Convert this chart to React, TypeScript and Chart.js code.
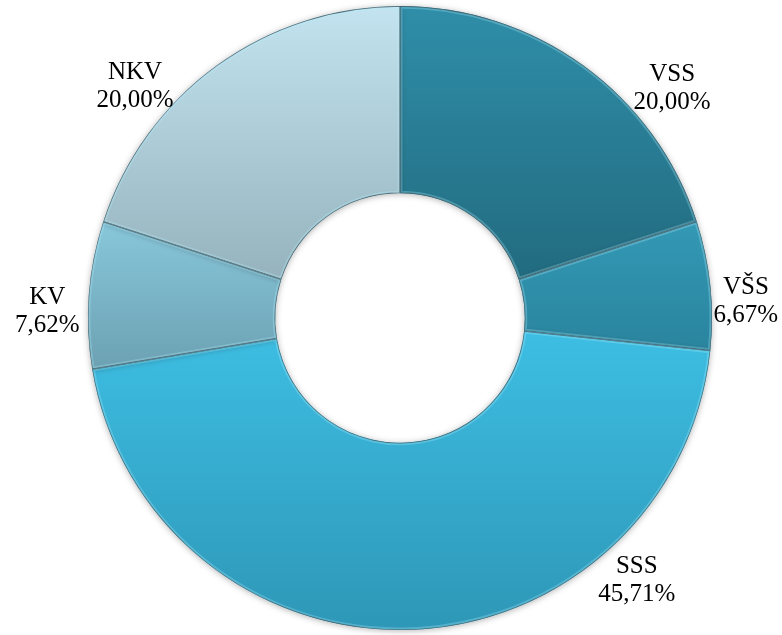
import React, { useEffect, useRef } from "react";
import { Chart, registerables } from "chart.js";

Chart.register(...registerables);

const categories = ["VSS", "VŠS", "SSS", "KV", "NKV"];
const shares = [20.0, 6.67, 45.71, 7.62, 20.0];
const shareLabels = ["20,00%", "6,67%", "45,71%", "7,62%", "20,00%"];

const topColors = ["#2f8ea9", "#3399b5", "#3dbee3", "#88c7db", "#c2e3ef"];
const bottomColors = ["#226b7f", "#2a849e", "#2e97b7", "#6ca1b2", "#96b3bd"];

// label placement: angle (deg, clockwise from top) and distance factor of outer radius
const labelLayout = [
  { a: 49.8, d: 1.142 },
  { a: 87.2, d: 1.11 },
  { a: 137.9, d: 1.132 },
  { a: 271.0, d: 1.131 },
  { a: 311.1, d: 1.127 },
];

function arcYRange(arc: any) {
  const { y, startAngle, endAngle, innerRadius, outerRadius } = arc.getProps(
    ["x", "y", "startAngle", "endAngle", "innerRadius", "outerRadius"],
    true
  );
  let lo = Infinity;
  let hi = -Infinity;
  const n = 60;
  for (let k = 0; k <= n; k++) {
    const t = startAngle + ((endAngle - startAngle) * k) / n;
    for (const r of [innerRadius, outerRadius]) {
      const py = y + Math.sin(t) * r;
      lo = Math.min(lo, py);
      hi = Math.max(hi, py);
    }
  }
  return { lo, hi };
}

const labelPlugin = {
  id: "sliceLabels",
  afterDatasetsDraw(chart: any) {
    const ctx = chart.ctx;
    const meta = chart.getDatasetMeta(0);
    ctx.save();
    ctx.fillStyle = "#000";
    ctx.font = '25px "Liberation Serif", "Times New Roman", serif';
    ctx.textAlign = "center";
    ctx.textBaseline = "middle";
    meta.data.forEach((arc: any, i: number) => {
      const { x, y, outerRadius } = arc.getProps(["x", "y", "outerRadius"], true);
      const L = labelLayout[i];
      const ang = (L.a * Math.PI) / 180;
      const cx = x + Math.sin(ang) * outerRadius * L.d;
      const cy = y - Math.cos(ang) * outerRadius * L.d;
      ctx.fillText(categories[i], cx, cy - 14);
      ctx.fillText(shareLabels[i], cx, cy + 14);
    });
    ctx.restore();
  },
};

const bevelPlugin = {
  id: "bevel",
  afterDatasetsDraw(chart: any) {
    const ctx = chart.ctx;
    const meta = chart.getDatasetMeta(0);
    meta.data.forEach((arc: any) => {
      const { x, y, startAngle, endAngle, innerRadius, outerRadius } = arc.getProps(
        ["x", "y", "startAngle", "endAngle", "innerRadius", "outerRadius"],
        true
      );
      ctx.save();
      ctx.beginPath();
      ctx.arc(x, y, outerRadius, startAngle, endAngle);
      ctx.arc(x, y, innerRadius, endAngle, startAngle, true);
      ctx.closePath();
      ctx.clip();
      ctx.lineWidth = 5;
      ctx.strokeStyle = "rgba(180,240,255,0.28)";
      ctx.stroke();
      ctx.lineWidth = 1.3;
      ctx.strokeStyle = "rgba(60,85,95,0.8)";
      ctx.stroke();
      ctx.restore();
    });
  },
};

const shadowPlugin = {
  id: "softShadow",
  beforeDatasetsDraw(chart: any) {
    const ctx = chart.ctx;
    ctx.save();
    ctx.shadowColor = "rgba(0,0,0,0.3)";
    ctx.shadowBlur = 6;
    ctx.shadowOffsetY = 1;
  },
  afterDatasetsDraw(chart: any) {
    chart.ctx.restore();
  },
};

export default function App() {
  const ref = useRef<HTMLCanvasElement>(null);
  useEffect(() => {
    if (!ref.current) return;
    const chart = new Chart(ref.current, {
      type: "doughnut",
      data: {
        labels: categories,
        datasets: [
          {
            data: shares,
            backgroundColor: (c: any) => {
              const i = c.dataIndex;
              const area = c.chart.chartArea;
              const meta = c.chart.getDatasetMeta(0);
              const arc = meta && meta.data ? meta.data[i] : null;
              if (!area || !arc || !arc.outerRadius) return topColors[i];
              const { lo, hi } = arcYRange(arc);
              if (!isFinite(lo) || hi <= lo) return topColors[i];
              const g = c.chart.ctx.createLinearGradient(0, lo, 0, hi);
              g.addColorStop(0, topColors[i]);
              g.addColorStop(1, bottomColors[i]);
              return g;
            },
            borderWidth: 0,
            hoverOffset: 0,
          },
        ],
      },
      options: {
        animation: false,
        responsive: true,
        maintainAspectRatio: false,
        cutout: "40%",
        rotation: 0,
        layout: { padding: { top: 6, bottom: 5, left: 88, right: 70 } },
        plugins: {
          legend: { display: false },
          tooltip: { enabled: false },
        },
      },
      plugins: [shadowPlugin, bevelPlugin, labelPlugin],
    });
    chart.update();
    return () => chart.destroy();
  }, []);
  return (
    <div style={{ position: "fixed", left: 0, top: 0, width: 782, height: 635, background: "#fff" }}>
      <canvas ref={ref} />
    </div>
  );
}
